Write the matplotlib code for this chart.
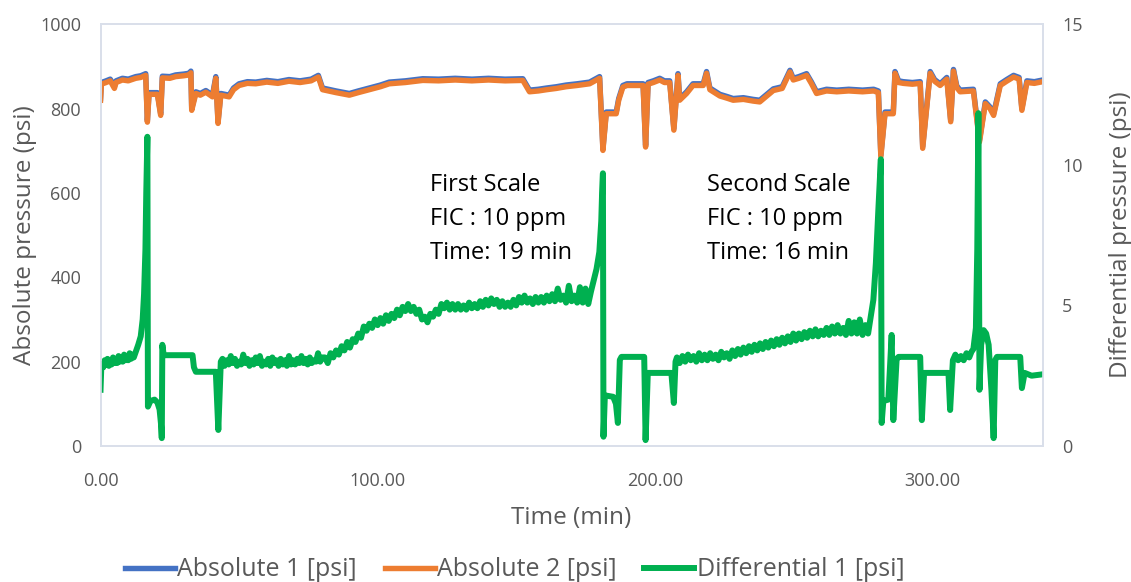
import matplotlib
matplotlib.use("Agg")
import matplotlib.pyplot as plt
from matplotlib.ticker import FormatStrFormatter

plt.rcParams['font.family'] = ['Open Sans', 'DejaVu Sans']

# sample times shared by the two absolute sensors (min)
abs_t = [0, 0.3, 2, 3.5, 5, 5.6, 7.9, 10, 12.7, 14.5,
         16.3, 16.9, 17.5, 20.5, 21.7, 22.3, 25, 27.1, 30, 32,
         32.6, 32.9, 34.4, 36, 38, 40.4, 41.6, 42.4, 43.4, 46.4,
         48, 50, 53, 56, 60, 64, 68, 72, 76, 78.6,
         80.1, 85, 89.8, 93, 97, 101, 104.2, 110, 116.3, 122,
         128, 134, 140, 146, 152.4, 154.8, 158, 161, 164.5, 168,
         172, 176.5, 180.1, 181.3, 182.5, 186.1, 187, 188.5, 190, 195.8,
         196.7, 197.6, 199.5, 201.8, 203.5, 205.4, 206.9, 208.4, 209, 211.5,
         213.8, 217.5, 218.7, 219.9, 223.5, 226, 228.3, 232, 235.5, 237.9,
         242.8, 246, 248.8, 250, 252, 254.8, 256.5, 258.4, 262, 265.7,
         270, 275, 279, 280.7, 281.6, 283.1, 286.1, 286.7, 288, 289.7,
         293, 295.8, 296.7, 299.4, 301, 303, 305.4, 306.8, 307.8, 309,
         310.2, 315, 317.2, 319.3, 321, 322.3, 324.7, 327, 329.5, 331.5,
         332.5, 334.3, 337, 340]

abs1 = [824, 862, 866, 870, 852, 866, 872, 870, 876, 878,
        883, 772, 838, 838, 788, 877, 876, 880, 882, 884,
        889, 800, 840, 836, 843, 832, 876, 769, 836, 832,
        849, 859, 864, 863, 867, 864, 869, 866, 870, 879,
        849, 842, 836, 842, 849, 856, 863, 866, 871, 870,
        872, 870, 872, 870, 871, 844, 846, 849, 852, 856,
        859, 863, 876, 705, 792, 792, 824, 855, 859, 859,
        713, 862, 866, 872, 866, 866, 753, 883, 824, 840,
        859, 859, 888, 849, 834, 829, 824, 826, 822, 820,
        847, 852, 891, 872, 876, 883, 864, 840, 846, 844,
        846, 844, 846, 842, 690, 792, 792, 888, 866, 864,
        862, 864, 710, 888, 869, 859, 874, 773, 893, 854,
        844, 846, 725, 816, 804, 788, 859, 869, 879, 874,
        800, 866, 864, 868]

abs2 = [820, 858, 862, 866, 848, 862, 868, 866, 872, 874,
        879, 768, 834, 834, 784, 873, 872, 876, 878, 880,
        885, 796, 836, 832, 839, 828, 872, 765, 832, 828,
        845, 855, 860, 859, 863, 860, 865, 862, 866, 875,
        845, 838, 832, 838, 845, 852, 859, 862, 867, 866,
        868, 866, 868, 866, 867, 840, 842, 845, 848, 852,
        855, 859, 872, 701, 788, 788, 820, 851, 855, 855,
        709, 858, 862, 868, 862, 862, 749, 879, 820, 836,
        855, 855, 884, 845, 830, 825, 820, 822, 818, 816,
        843, 848, 887, 868, 872, 879, 860, 836, 842, 840,
        842, 840, 842, 838, 686, 788, 788, 884, 862, 860,
        858, 860, 706, 884, 865, 855, 870, 769, 889, 850,
        840, 842, 721, 812, 800, 784, 855, 865, 875, 870,
        796, 862, 860, 864]

# differential pressure (psi) as (time, value)
diff1 = [
    (0.0, 2.0), (0.3, 2.9), (1, 2.8), (1.5, 3.05), (2, 2.9), (2.5, 3.1), (3, 2.85),
    (3.5, 3.05), (4, 2.9), (4.5, 3.15), (5, 2.95), (5.5, 3.1), (6, 2.95), (6.5, 3.2),
    (7, 3.0), (7.5, 3.15), (8, 3.0), (8.5, 3.25), (9, 3.05), (9.5, 3.2), (10, 3.05),
    (10.5, 3.3), (11, 3.1), (11.5, 3.25), (12, 3.15), (12.7, 3.35), (13.6, 3.6),
    (14.5, 3.9), (15.2, 4.5), (15.7, 5.4), (16.2, 7.0), (16.5, 9.0), (16.9, 11.0),
    (17.1, 1.4), (18, 1.6), (19.5, 1.65), (20.5, 1.55), (21.3, 1.3), (21.8, 0.8),
    (22.1, 0.28), (22.3, 3.6), (22.8, 3.23), (33.2, 3.23), (33.7, 2.8), (34.4, 2.64),
    (41.6, 2.64), (42.5, 0.57), (43.4, 3.0),
    (44.0, 3.1), (44.75, 2.85), (45.5, 3.05), (46.25, 2.9), (47.0, 3.2), (47.75, 2.95),
    (48.5, 3.1), (49.25, 2.85), (50.0, 3.0), (50.75, 2.9), (51.5, 3.25), (52.25, 2.95),
    (53.0, 3.1), (53.75, 2.85), (54.5, 3.05), (55.25, 2.9), (56.0, 3.15), (56.75, 2.95),
    (57.5, 3.2), (58.25, 2.85), (59.0, 3.0), (59.75, 2.9), (60.5, 3.1), (61.25, 2.85),
    (62.0, 3.15), (62.75, 2.95), (63.5, 3.05), (64.25, 2.85), (65.0, 3.1), (65.75, 2.9),
    (66.5, 3.05), (67.25, 2.85), (68.0, 3.2), (68.75, 2.9), (69.5, 3.05), (70.25, 2.9),
    (71.0, 3.1), (71.75, 2.95), (72.5, 3.2), (73.25, 2.95), (74.0, 3.1), (74.75, 2.9),
    (75.5, 3.15), (76.25, 2.95), (77.0, 3.05), (77.75, 3.0), (78.5, 3.3), (79.25, 3.0),
    (80.0, 3.15),
    (81, 3.15), (82, 2.95), (83, 3.3), (84, 3.15), (85, 3.4), (86, 3.25), (87, 3.55),
    (88, 3.4), (89, 3.7), (90, 3.5), (91, 3.8), (92, 3.7), (93, 4.0), (94, 3.85),
    (95, 4.25), (96, 4.1), (97, 4.35), (98, 4.2), (99, 4.5), (100, 4.3), (101, 4.55),
    (102, 4.35), (103, 4.65), (104, 4.45), (105, 4.7), (106, 4.55), (107, 4.85),
    (108, 4.65), (109, 4.95), (110, 4.8), (111, 5.05), (112, 4.8), (113, 4.95),
    (114, 4.7), (115, 4.85), (116, 4.5), (117, 4.6), (118, 4.4), (119, 4.7), (120, 4.6),
    (121, 4.85), (122, 4.7), (123, 5.05), (124, 4.9), (125, 5.1), (126, 4.85),
    (127, 5.05), (128, 4.85), (129, 5.05), (130, 4.85), (131, 5.0), (132, 4.85),
    (133, 5.1), (134, 4.9), (135, 5.05), (136, 4.9), (137, 5.15), (138, 4.95),
    (139, 5.2), (140, 5.0), (141, 5.25), (142, 5.05), (143, 5.2), (144, 4.95),
    (145, 5.15), (146, 4.95), (147, 5.1), (148, 4.95), (149, 5.2), (150, 5.0),
    (151, 5.3), (152, 5.1), (153, 5.35), (154, 5.1), (155, 5.25), (156, 5.05),
    (157, 5.3), (158, 5.1), (159, 5.3), (160, 5.1), (161, 5.35), (162, 5.15),
    (163, 5.4), (164, 5.15), (165, 5.6), (166, 5.2), (167, 5.35), (168, 5.1),
    (169, 5.7), (170, 5.15), (171, 5.35), (172, 5.1), (173, 5.65), (174, 5.1),
    (175, 5.6), (176, 5.05), (177, 5.5),
    (178, 5.9), (179, 6.3), (180, 6.9), (180.7, 8.0), (181.0, 9.0), (181.3, 9.7),
    (181.5, 0.33), (182, 1.8), (185, 1.75), (186, 1.5), (186.7, 0.82), (187.4, 3.06),
    (188, 3.17), (196.2, 3.17), (196.7, 0.21), (197.5, 2.6), (206, 2.6), (206.9, 1.53),
    (207.5, 3.0),
    (208, 3.15), (209, 2.95), (210, 3.2), (211, 3.0), (212, 3.25), (213, 3.05),
    (214, 3.2), (215, 3.0), (216, 3.3), (217, 3.05), (218, 3.25), (219, 3.05),
    (220, 3.3), (221, 3.1), (222, 3.25), (223, 3.05), (224, 3.35), (225, 3.15),
    (226, 3.3), (227, 3.1), (228, 3.4), (229, 3.2), (230, 3.45), (231, 3.25),
    (232, 3.5), (233, 3.3), (234, 3.55), (235, 3.35), (236, 3.6), (237, 3.4),
    (238, 3.65), (239, 3.45), (240, 3.7), (241, 3.5), (242, 3.75), (243, 3.55),
    (244, 3.8), (245, 3.6), (246, 3.85), (247, 3.65), (248, 3.9), (249, 3.7),
    (250, 4.0), (251, 3.75), (252, 4.0), (253, 3.8), (254, 4.05), (255, 3.85),
    (256, 4.1), (257, 3.9), (258, 4.15), (259, 3.9), (260, 4.1), (261, 3.95),
    (262, 4.2), (263, 3.95), (264, 4.25), (265, 4.0), (266, 4.3), (267, 4.0),
    (268, 4.2), (269, 3.95), (270, 4.45), (271, 4.0), (272, 4.4), (273, 4.0),
    (274, 4.5), (275, 3.95), (276, 4.3), (277, 4.0),
    (277.8, 4.5), (278.9, 5.2), (279.8, 6.5), (280.7, 8.4), (281.6, 10.2),
    (281.9, 0.82), (282.5, 1.6), (284.3, 1.65), (285.5, 3.95), (286.1, 0.92),
    (287.3, 3.1), (288, 3.17), (295.8, 3.17), (296.4, 0.92), (297.2, 2.6), (306, 2.6),
    (306.6, 1.28), (307.6, 3.05), (308.5, 3.25), (309.5, 3.05), (310.5, 3.2),
    (311.5, 3.05), (312.5, 3.3), (313.5, 3.15), (314.3, 3.35), (315, 3.45),
    (315.9, 4.2), (316.4, 7.0), (316.8, 11.84),
    (317.2, 2.0), (317.8, 3.6), (318.7, 4.12), (319.6, 4.0), (320.5, 3.6), (321.5, 2.0),
    (322.3, 0.28), (322.9, 3.06), (323.5, 3.17), (331.9, 3.17), (332.5, 2.06),
    (333.5, 2.6), (336, 2.5), (340, 2.55),
]

labels = ['Absolute 1 [psi]', 'Absolute 2 [psi]', 'Differential 1 [psi]']
colors = ['#4472C4', '#ED7D31', '#00B050']
notes = [(119.0, 'First Scale\nFIC : 10 ppm\nTime: 19 min'),
         (219.0, 'Second Scale\nFIC : 10 ppm\nTime: 16 min')]

grey = '#595959'
frame = '#D9DFEA'

fig = plt.figure(figsize=(11.31, 5.82), dpi=100)
ax = fig.add_axes([0.0889, 0.2337, 0.8330, 0.7245])
ax2 = ax.twinx()

l1, = ax.plot(abs_t, abs1, color=colors[0], lw=3.9, solid_joinstyle='round')
l2, = ax.plot(abs_t, abs2, color=colors[1], lw=3.9, solid_joinstyle='round')
dt = [p[0] for p in diff1]
dv = [p[1] for p in diff1]
l3, = ax2.plot(dt, dv, color=colors[2], lw=4.3, solid_joinstyle='round')

ax.set_xlim(0, 340)
ax.set_ylim(0, 1000)
ax2.set_ylim(0, 15)
ax.set_xticks([0, 100, 200, 300])
ax.xaxis.set_major_formatter(FormatStrFormatter('%.2f'))
ax.set_yticks([0, 200, 400, 600, 800, 1000])
ax2.set_yticks([0, 5, 10, 15])

for a in (ax, ax2):
    a.tick_params(length=0, labelsize=13, labelcolor=grey)
    for s in a.spines.values():
        s.set_color(frame)
        s.set_linewidth(1.2)
ax.tick_params(axis='y', pad=14)
ax.tick_params(axis='x', pad=18.5)
ax2.tick_params(axis='y', pad=14)

ax.set_xlabel('Time (min)', fontsize=17.5, color=grey, labelpad=12)
ax.set_ylabel('Absolute pressure (psi)', fontsize=17.5, color=grey, labelpad=2)
ax2.set_ylabel('Differential pressure (psi)', fontsize=17.5, color=grey, labelpad=19)

for x, txt in notes:
    ax.text(x, 648, txt, fontsize=17, color='black', va='top', ha='left',
            linespacing=1.55)

fig.legend([l1, l2, l3], labels, loc='center', bbox_to_anchor=(0.455, 0.021),
           ncol=3, frameon=False, fontsize=18, labelcolor=grey,
           handlelength=2.0, handletextpad=0.1, columnspacing=1.1)

fig.savefig('out.png', dpi=100)
